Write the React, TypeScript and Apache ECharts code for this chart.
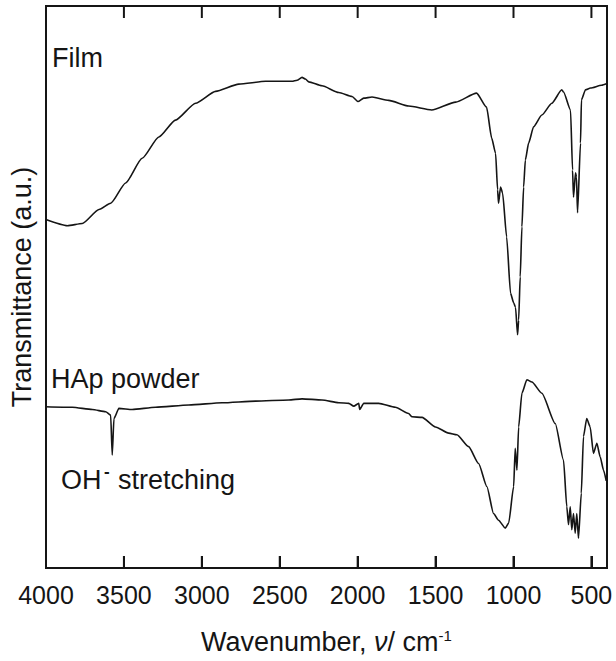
import React, { useEffect, useRef } from "react";
import * as echarts from "echarts";

const filmWavenumbers = [
  4000, 3863, 3767, 3660, 3585, 3489, 3383, 3276, 3169, 3040, 2912, 2763, 2591, 2421, 2389, 2357, 2335, 2314,
  2229, 2121, 2036, 1998, 1961, 1908, 1801, 1673, 1525, 1371, 1237, 1173, 1140, 1115, 1102, 1096, 1083, 1070,
  1044, 1019, 999, 987, 974, 967, 957, 946, 935, 924, 903, 871, 818, 754, 690, 679, 634, 621, 615, 602, 596,
  589, 570, 564, 538, 506, 435, 400,
];
const filmValues = [
  62.0, 60.9, 61.3, 63.8, 64.9, 68.5, 72.9, 76.7, 79.7, 82.7, 84.8, 86.1, 86.6, 86.6, 86.8, 87.3, 87.0, 86.5,
  85.8, 84.6, 83.9, 83.0, 83.6, 83.8, 83.2, 82.2, 81.5, 82.9, 84.5, 82.0, 76.5, 73.8, 67.3, 64.9, 67.8, 66.7,
  58.9, 48.9, 47.2, 46.4, 41.5, 44.1, 51.8, 60.7, 67.8, 72.6, 75.6, 78.5, 80.6, 82.7, 85.1, 84.7, 81.5, 70.8,
  66.0, 70.3, 69.6, 63.2, 75.6, 83.3, 85.1, 85.4, 85.9, 86.2,
];

const hapWavenumbers = [
  4000, 3831, 3703, 3617, 3585, 3575, 3564, 3532, 3447, 3297, 3083, 2870, 2655, 2442, 2357, 2229, 2121, 2057,
  2025, 1993, 1987, 1961, 1865, 1758, 1673, 1651, 1587, 1501, 1416, 1363, 1288, 1224, 1171, 1128, 1096, 1053,
  1031, 999, 989, 978, 967, 946, 914, 882, 818, 732, 679, 658, 647, 636, 626, 615, 604, 594, 583, 565, 551,
  530, 508, 487, 465, 444, 422, 405,
];
const hapValues = [
  28.7, 28.6, 28.2, 27.8, 27.2, 20.1, 26.6, 28.4, 28.2, 28.6, 29.0, 29.4, 29.7, 29.9, 30.1, 29.9, 29.4, 29.3,
  28.8, 29.3, 28.2, 29.3, 29.3, 28.6, 27.5, 26.9, 26.8, 25.1, 24.0, 23.7, 21.6, 18.6, 14.5, 9.7, 8.5, 7.1,
  8.0, 14.5, 21.3, 17.4, 25.1, 31.1, 33.5, 33.1, 31.1, 25.7, 19.2, 10.9, 7.7, 10.9, 6.8, 9.7, 6.2, 9.7, 5.3,
  13.3, 23.4, 26.6, 25.1, 20.4, 22.2, 19.8, 17.4, 15.5,
];

const tickValues = [4000, 3500, 3000, 2500, 2000, 1500, 1000, 500];
const axisMin = 400;
const axisMax = 4000;
const yMin = 0;
const yMax = 100;

const FONT = '"Liberation Sans", Arial, Helvetica, sans-serif';
const INK = "#151515";
const TICK_LEN = 12;

export default function App() {
  const ref = useRef<HTMLDivElement>(null);
  useEffect(() => {
    if (!ref.current) return;
    const chart = echarts.init(ref.current, undefined, { renderer: "svg" });
    const film = filmWavenumbers.map((w, i) => [w, filmValues[i]]);
    const hap = hapWavenumbers.map((w, i) => [w, hapValues[i]]);
    const labels = [
      {
        type: "text",
        left: 52,
        top: 44,
        style: { text: "Film", fontSize: 27, fontFamily: FONT, fill: INK },
      },
      {
        type: "text",
        left: 51,
        top: 365,
        style: { text: "HAp powder", fontSize: 27, fontFamily: FONT, fill: INK },
      },
      {
        type: "text",
        left: 61,
        top: 466,
        style: { text: "OH", fontSize: 27, fontFamily: FONT, fill: INK },
      },
      {
        type: "text",
        left: 104,
        top: 463,
        style: { text: "-", fontSize: 17, fontWeight: "bold", fontFamily: FONT, fill: INK },
      },
      {
        type: "text",
        left: 118,
        top: 466,
        style: { text: "stretching", fontSize: 27, fontFamily: FONT, fill: INK },
      },
    ];
    chart.setOption({
      animation: false,
      backgroundColor: "#ffffff",
      grid: {
        left: 46,
        right: 9,
        top: 6,
        bottom: 93,
        show: true,
        borderColor: INK,
        borderWidth: 2,
        backgroundColor: "transparent",
      },
      xAxis: {
        type: "value",
        min: axisMin,
        max: axisMax,
        inverse: true,
        axisLine: { show: true, onZero: false, lineStyle: { color: INK, width: 2 } },
        axisTick: {
          show: true,
          inside: true,
          length: TICK_LEN,
          customValues: tickValues,
          lineStyle: { color: INK, width: 2 },
        },
        splitLine: { show: false },
        axisLabel: {
          show: true,
          customValues: tickValues,
          margin: 14,
          fontSize: 25,
          fontFamily: FONT,
          color: INK,
          formatter: (v: number) => String(v),
        },
        name: "Wavenumber, {i|ν}/ cm{sup|-1}",
        nameLocation: "middle",
        nameGap: 60,
        nameTextStyle: {
          fontSize: 27,
          fontFamily: FONT,
          color: INK,
          rich: {
            i: { fontSize: 27, fontFamily: FONT, fontStyle: "italic", color: INK },
            sup: { fontSize: 15, fontFamily: FONT, color: INK, verticalAlign: "top", padding: [0, 0, 10, 0] },
          },
        },
      },
      yAxis: {
        type: "value",
        min: yMin,
        max: yMax,
        axisLine: { show: true, lineStyle: { color: INK, width: 2 } },
        axisTick: { show: false },
        axisLabel: { show: false },
        splitLine: { show: false },
        name: "Transmittance (a.u.)",
        nameLocation: "middle",
        nameGap: 11,
        nameTextStyle: { fontSize: 27, fontFamily: FONT, color: INK },
      },
      series: [
        {
          name: "Film",
          type: "line",
          data: film,
          showSymbol: false,
          smooth: 0.2,
          smoothMonotone: "x",
          lineStyle: { color: INK, width: 1.6 },
        },
        {
          name: "HAp powder",
          type: "line",
          data: hap,
          showSymbol: false,
          smooth: 0.2,
          smoothMonotone: "x",
          lineStyle: { color: INK, width: 1.6 },
        },
      ],
      graphic: labels,
    });

    // tick marks on the top (and bottom) frame, placed through the axis scales
    const ticks: any[] = [];
    const yBottom = chart.convertToPixel({ yAxisIndex: 0 }, yMin) as unknown as number;
    const yTop = chart.convertToPixel({ yAxisIndex: 0 }, yMax) as unknown as number;
    tickValues.forEach((v) => {
      const x = chart.convertToPixel({ xAxisIndex: 0 }, v) as unknown as number;
      if (typeof x !== "number" || typeof yBottom !== "number" || typeof yTop !== "number") return;
      ticks.push({
        type: "rect",
        silent: true,
        z: 100,
        shape: { x: x - 1, y: yBottom - TICK_LEN, width: 2, height: TICK_LEN },
        style: { fill: INK },
      });
      ticks.push({
        type: "rect",
        silent: true,
        z: 100,
        shape: { x: x - 1, y: yTop, width: 2, height: TICK_LEN },
        style: { fill: INK },
      });
    });
    if (ticks.length) chart.setOption({ graphic: [...labels, ...ticks] });
    return () => chart.dispose();
  }, []);
  return (
    <div
      ref={ref}
      style={{ position: "fixed", left: 0, top: 0, width: 616, height: 661, background: "#fff" }}
    />
  );
}
